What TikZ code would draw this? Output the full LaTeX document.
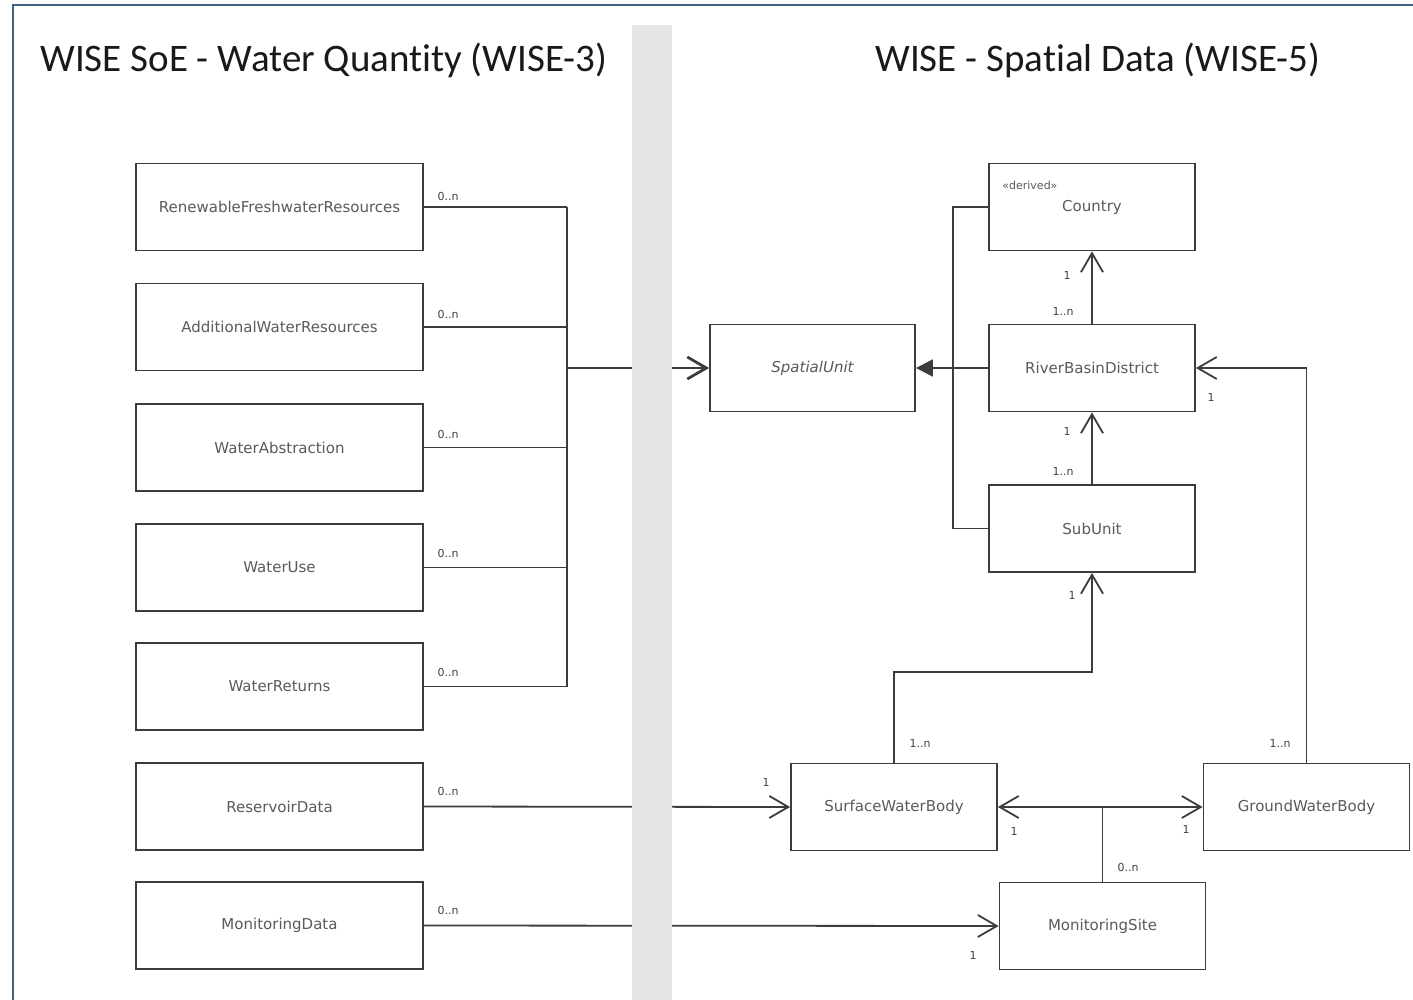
\documentclass[tikz,border=0pt]{standalone}
\usepackage{fontspec}
\setmainfont{DejaVu Sans}
\newfontfamily\titlefont[Ligatures=NoCommon]{Carlito}
\usetikzlibrary{arrows.meta}
\definecolor{frameblue}{HTML}{3F6184}
\definecolor{bandgray}{HTML}{E6E6E6}
\definecolor{linegray}{HTML}{3C3C3C}
\definecolor{textgray}{HTML}{5A5A5A}
\definecolor{multgray}{HTML}{404040}
\tikzset{
  box/.style={draw=linegray, line width=0.9pt, rectangle, inner sep=0pt, minimum height=43.5pt, font=\fontsize{7.5}{9}\selectfont, text=textgray},
  lbox/.style={box, minimum width=143.5pt},
  rbox/.style={box, minimum width=103pt},
  conn/.style={draw=linegray, line width=0.9pt},
  openarr/.style={-{Straight Barb[length=9.5pt,width=11pt]}},
  mult/.style={font=\fontsize{5.5}{6.5}\selectfont, text=multgray, inner sep=0pt},
  ttl/.style={font=\titlefont\fontsize{19.5}{24}\selectfont, text=black!90, anchor=base west, inner sep=0pt}
}
\begin{document}
\begin{tikzpicture}[x=0.5pt, y=-0.5pt]
\useasboundingbox (0,0) rectangle (1413,1000);
\fill[white] (0,0) rectangle (1413,1000);

% titles
\node[ttl] (t1) at (40,72) {WISE SoE - Water Quantity (WISE-3)};
\node[ttl] (t2) at (875,72) {WISE - Spatial Data (WISE-5)};

% left boxes
\node[lbox] (rfr) at (279.5,207) {RenewableFreshwaterResources};
\node[lbox] (awr) at (279.5,327) {AdditionalWaterResources};
\node[lbox] (wa)  at (279.5,447.5) {WaterAbstraction};
\node[lbox] (wu)  at (279.5,567.5) {WaterUse};
\node[lbox] (wr)  at (279.5,686.5) {WaterReturns};
\node[lbox] (rd)  at (279.5,806.5) {ReservoirData};
\node[lbox] (md)  at (279.5,925.5) {MonitoringData};

% right boxes
\node[rbox, minimum width=102.5pt] (su) at (812.5,368) {\itshape SpatialUnit};
\node[rbox] (country) at (1092,207) {Country};
\node[font=\fontsize{5.5}{6.5}\selectfont, text=textgray, anchor=west, inner sep=0pt] (derived) at (1002,185) {«derived»};
\node[rbox] (rbd) at (1092,368) {RiverBasinDistrict};
\node[rbox] (sub) at (1092,528.5) {SubUnit};
\node[rbox] (swb) at (894,807) {SurfaceWaterBody};
\node[rbox] (gwb) at (1306.5,807) {GroundWaterBody};
\node[rbox] (ms)  at (1102.5,926) {MonitoringSite};

% left bus
\coordinate (busx) at (567,368);
\foreach \n in {rfr,awr,wa,wu,wr} \draw[conn] (\n.east) -- (\n.east -| busx);
\draw[conn] (rfr.east -| busx) -- (wr.east -| busx);
\draw[conn, line width=1.4pt, openarr] (busx) -- (su.west);

% generalization tree
\coordinate (genx) at (953,368);
\draw[conn] (country.west) -- (country.west -| genx) -- (sub.west -| genx) -- (sub.west);
\draw[conn, -{Triangle[length=8.5pt,width=8.5pt]}] (rbd.west) -- (su.east);

% associations
\draw[conn, openarr] (rbd.north) -- (country.south);
\draw[conn, openarr] (sub.north) -- (rbd.south);
\coordinate (sbend) at (894,672);
\draw[conn, openarr] (swb.north) -- (sbend) -| (sub.south);
\draw[conn, openarr] (gwb.north) |- (rbd.east);
\draw[conn, {Straight Barb[length=9.5pt,width=11pt]}-{Straight Barb[length=9.5pt,width=11pt]}] (swb.east) -- (gwb.west);
\coordinate (msj) at (ms.north |- swb.east);
\draw[conn] (ms.north) -- (msj);
\draw[conn, openarr] (rd.east) -- (swb.west);
\draw[conn, openarr] (md.east) -- (ms.west);

% band
\fill[bandgray] (632,25) rectangle (672,1000);

% multiplicities
\node[mult] (m1) at (448,196) {0..n};
\node[mult] (m2) at (448,314) {0..n};
\node[mult] (m3) at (448,434) {0..n};
\node[mult] (m4) at (448,553) {0..n};
\node[mult] (m5) at (448,672) {0..n};
\node[mult] (m6) at (448,791) {0..n};
\node[mult] (m7) at (448,910) {0..n};
\node[mult] (m8) at (1067,275) {1};
\node[mult] (m9) at (1063,311) {1..n};
\node[mult] (m10) at (1067,431) {1};
\node[mult] (m11) at (1063,471) {1..n};
\node[mult] (m12) at (1211,397) {1};
\node[mult] (m13) at (1072,595) {1};
\node[mult] (m14) at (920,743) {1..n};
\node[mult] (m15) at (1280,743) {1..n};
\node[mult] (m16) at (766,782) {1};
\node[mult] (m17) at (1014,831) {1};
\node[mult] (m18) at (1186,829) {1};
\node[mult] (m19) at (1128,867) {0..n};
\node[mult] (m20) at (973,955) {1};

% frame
\draw[frameblue, line width=1.2pt] (13,1000) -- (13,5) -- (1413,5);
\end{tikzpicture}
\end{document}
